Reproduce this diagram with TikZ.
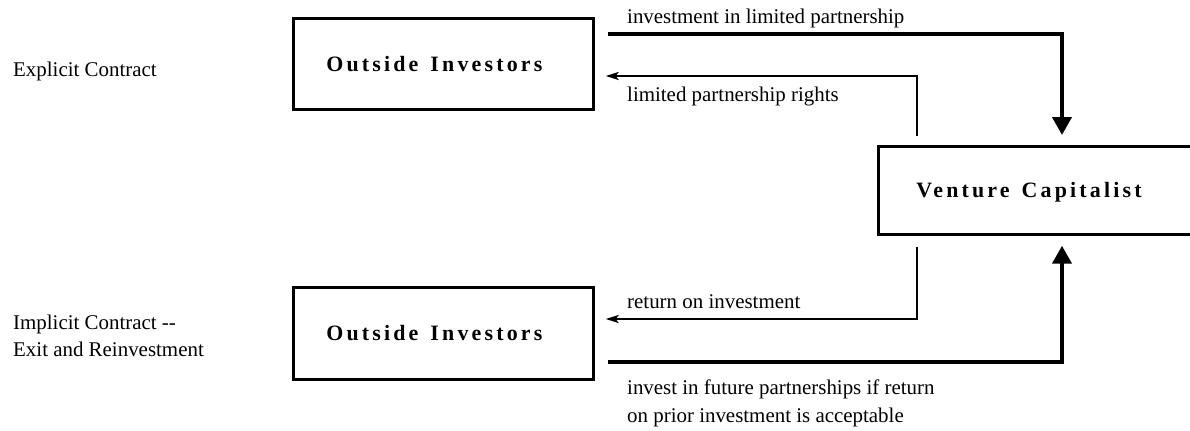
\documentclass[tikz,border=0pt]{standalone}
\usepackage{fontspec}
\setmainfont{Liberation Serif}
\newfontfamily\boxfont[LetterSpace=14.5]{Liberation Serif}
\usetikzlibrary{arrows.meta,calc}
\begin{document}
\begin{tikzpicture}[x=1bp,y=-1bp,
  box/.style={draw, line width=2.7bp, inner sep=0pt, align=left, text depth=0pt, anchor=north west,
    font=\boxfont\bfseries\fontsize{22}{26}\selectfont},
  lbl/.style={inner sep=0pt, anchor=base west, align=left, font=\fontsize{21}{27}\selectfont},
  thinarrow/.style={line width=2bp, -{Stealth[length=13bp,width=8bp,inset=3bp]}},
  bigarrow/.style={line width=4bp, -{Triangle[length=18bp,width=19bp]}}]
\useasboundingbox (0,0) rectangle (1190,430);
% boxes
\node[box, text width=300bp, minimum height=91bp] (oi1) at (292,17) {\hspace*{33bp}Outside\hspace{12bp}Investors};
\node[box, text width=300bp, minimum height=92bp] (oi2) at (292,286) {\hspace*{33bp}Outside\hspace{12bp}Investors};
\node[box, text width=330bp, minimum height=88bp] (vc) at (877,145) {\hspace*{38bp}Venture\hspace{12bp}Capitalist};
% side labels
\node[lbl] (ec) at (13,76) {Explicit Contract};
\node[lbl] (ic) at (13,356) {Implicit Contract {-}{-}\\Exit and Reinvestment};
% connector labels
\node[lbl] (l1) at (627,23) {investment in limited partnership};
\node[lbl] (l2) at (627,101) {limited partnership rights};
\node[lbl] (l3) at (627,308) {return on investment};
\node[lbl, font=\fontsize{21}{28}\selectfont] (l4) at (627,422) {invest in future partnerships if return\\on prior investment is acceptable};
% connectors
\draw[bigarrow] ($(oi1.north east)+(13,17)$) -| ($(vc.north west)+(185,-10)$);
\draw[thinarrow] ($(vc.north west)+(40,-9)$) |- ($(oi1.north east)+(11,59)$);
\draw[thinarrow] ($(vc.south west)+(40,11)$) |- ($(oi2.north east)+(11,33)$);
\draw[bigarrow] ($(oi2.north east)+(13,76)$) -| ($(vc.south west)+(185,10)$);
\end{tikzpicture}
\end{document}
